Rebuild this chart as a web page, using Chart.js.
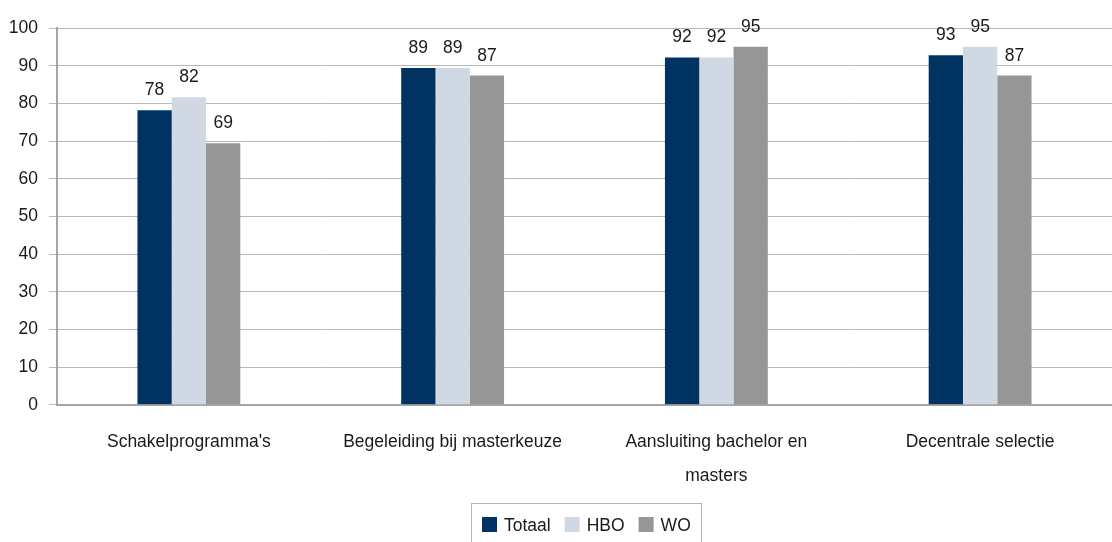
<!DOCTYPE html>
<html>
<head>
<meta charset="utf-8">
<script src="https://cdn.jsdelivr.net/npm/chart.js@4/dist/chart.umd.min.js"></script>
<style>
  html, body { margin: 0; padding: 0; background: #ffffff; }
  #wrap { position: relative; width: 1112px; height: 542px; }
</style>
</head>
<body>
<div id="wrap"><canvas id="c" width="1112" height="542"></canvas></div>
<script>
const categories = [
  "Schakelprogramma's",
  "Begeleiding bij masterkeuze",
  ["Aansluiting bachelor en", "masters"],
  "Decentrale selectie"
];
const seriesNames = ["Totaal", "HBO", "WO"];
const totaal = [78.2, 89.4, 92.2, 92.8];
const hbo = [81.6, 89.4, 92.2, 95.0];
const wo = [69.4, 87.4, 95.0, 87.4];
const yTicks = [0, 10, 20, 30, 40, 50, 60, 70, 80, 90, 100];

const FONT = "'Liberation Sans', Arial, sans-serif";
const FS = 17.5;

const valueLabels = {
  id: 'valueLabels',
  afterDatasetsDraw(chart) {
    const ctx = chart.ctx;
    ctx.save();
    ctx.font = FS + "px " + FONT;
    ctx.fillStyle = '#1a1a1a';
    ctx.textAlign = 'center';
    ctx.textBaseline = 'bottom';
    chart.data.datasets.forEach((ds, i) => {
      const meta = chart.getDatasetMeta(i);
      meta.data.forEach((bar, j) => {
        ctx.fillText(String(Math.round(ds.data[j])), bar.x, bar.y - 11);
      });
    });
    ctx.restore();
  }
};

const boxedLegend = {
  id: 'boxedLegend',
  afterDraw(chart) {
    const ctx = chart.ctx;
    const ca = chart.chartArea;
    ctx.save();
    ctx.font = FS + "px " + FONT;
    const pad = 11, sq = 15, gap = 7, itemGap = 14, padR = 10;
    const items = chart.data.datasets.map(ds => ({ text: ds.label, color: ds.backgroundColor, w: ctx.measureText(ds.label).width }));
    let total = pad + padR;
    items.forEach((it, i) => { total += sq + gap + it.w + (i < items.length - 1 ? itemGap : 0); });
    const cx = (ca.left + ca.right) / 2 + 1;
    const left = Math.round(cx - total / 2);
    const top = 503;
    const cy = 525;
    ctx.strokeStyle = '#b4b4b4';
    ctx.lineWidth = 1;
    ctx.strokeRect(left + 0.5, top + 0.5, Math.round(total), 80);
    let x = left + pad;
    ctx.textBaseline = 'middle';
    ctx.textAlign = 'left';
    items.forEach(it => {
      ctx.fillStyle = it.color;
      ctx.fillRect(x, cy - 8, sq, sq);
      x += sq + gap;
      ctx.fillStyle = '#1a1a1a';
      ctx.fillText(it.text, x, cy + 1);
      x += it.w + itemGap;
    });
    ctx.restore();
  }
};

new Chart(document.getElementById('c'), {
  type: 'bar',
  data: {
    labels: categories,
    datasets: [
      { label: seriesNames[0], data: totaal, backgroundColor: '#003362' },
      { label: seriesNames[1], data: hbo, backgroundColor: '#d0d8e4' },
      { label: seriesNames[2], data: wo, backgroundColor: '#969696' }
    ]
  },
  options: {
    responsive: false,
    animation: false,
    layout: { padding: { top: 28, left: 0, right: 0, bottom: 29 } },
    datasets: { bar: { categoryPercentage: 0.39, barPercentage: 1.0 } },
    plugins: {
      legend: { display: false },
      tooltip: { enabled: false }
    },
    scales: {
      x: {
        grid: { display: false, drawTicks: false },
        border: { display: true, color: '#a6a6a6', width: 2 },
        ticks: {
          color: '#1a1a1a',
          padding: 20,
          font: { family: FONT, size: FS, lineHeight: 1.95 },
          maxRotation: 0
        }
      },
      y: {
        min: 0, max: 100,
        afterBuildTicks(scale) { scale.ticks = yTicks.map(v => ({ value: v })); },
        afterFit(scale) { scale.width = 57; },
        grid: { color: '#b8b8b8', lineWidth: 1, tickLength: 8 },
        border: { display: true, color: '#a6a6a6', width: 2 },
        ticks: {
          color: '#1a1a1a',
          padding: 11,
          font: { family: FONT, size: FS }
        }
      }
    }
  },
  plugins: [valueLabels, boxedLegend]
});
</script>
</body>
</html>
